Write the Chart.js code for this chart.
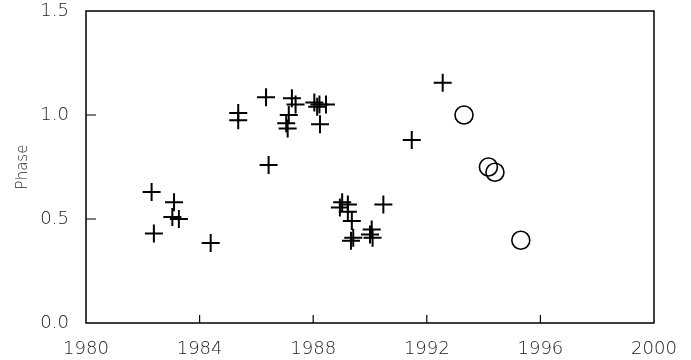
<!DOCTYPE html>
<html>
<head>
<meta charset="utf-8">
<script src="https://cdn.jsdelivr.net/npm/chart.js@4/dist/chart.umd.min.js"></script>
<style>
  html, body { margin: 0; padding: 0; background: #fff; }
  #wrap { width: 691px; height: 360px; }
</style>
</head>
<body>
<div id="wrap"><canvas id="chart"></canvas></div>
<script>
// crosses: observed phase per year
const crossYears = [
  1982.31, 1983.10, 1983.04, 1983.27, 1982.39, 1984.39,
  1985.36, 1985.36, 1986.34, 1986.43,
  1987.25, 1987.38, 1987.14, 1987.05, 1987.10,
  1988.04, 1988.14, 1988.22, 1988.45, 1988.24,
  1989.02, 1989.22, 1988.94, 1989.22, 1989.36, 1989.41, 1989.33,
  1990.06, 1990.00, 1990.09, 1990.47,
  1991.47, 1992.56
];
const crossPhase = [
  0.63, 0.58, 0.51, 0.50, 0.43, 0.385,
  1.01, 0.975, 1.085, 0.76,
  1.08, 1.05, 1.00, 0.96, 0.935,
  1.06, 1.04, 1.05, 1.05, 0.955,
  0.58, 0.57, 0.555, 0.535, 0.49, 0.41, 0.395,
  0.45, 0.425, 0.41, 0.57,
  0.88, 1.155
];
// circles
const circleYears = [1993.31, 1994.17, 1994.40, 1995.31];
const circlePhase = [1.00, 0.75, 0.725, 0.398];

const xTicks = [1980, 1984, 1988, 1992, 1996, 2000];
const yTicks = [0.0, 0.5, 1.0, 1.5];

const toPts = (xs, ys) => xs.map((x, i) => ({ x: x, y: ys[i] }));

// box round the plot with ticks pointing inward
const framePlugin = {
  id: 'frame',
  afterDraw(chart) {
    const { ctx, chartArea: a, scales } = chart;
    ctx.save();
    ctx.strokeStyle = '#000';
    ctx.lineWidth = 1.5;
    ctx.strokeRect(a.left, a.top, a.right - a.left, a.bottom - a.top);
    ctx.lineWidth = 1.2;
    ctx.beginPath();
    yTicks.forEach(v => {
      const py = scales.y.getPixelForValue(v);
      if (py <= a.top + 1 || py >= a.bottom - 1) return;
      ctx.moveTo(a.left, py);
      ctx.lineTo(a.left + 10, py);
    });
    xTicks.forEach(v => {
      const px = scales.x.getPixelForValue(v);
      if (px <= a.left + 1 || px >= a.right - 1) return;
      ctx.moveTo(px, a.bottom);
      ctx.lineTo(px, a.bottom - 8);
    });
    ctx.stroke();
    ctx.restore();
  }
};

const tickFont = { family: 'DejaVu Sans', size: 18, weight: 200 };

new Chart(document.getElementById('chart'), {
  type: 'scatter',
  data: {
    datasets: [
      {
        label: 'cross',
        data: toPts(crossYears, crossPhase),
        pointStyle: 'cross',
        pointRadius: 9,
        pointBorderWidth: 2,
        borderColor: '#000',
        backgroundColor: '#000'
      },
      {
        label: 'circle',
        data: toPts(circleYears, circlePhase),
        pointStyle: 'circle',
        pointRadius: 9,
        pointBorderWidth: 1.6,
        borderColor: '#000',
        backgroundColor: 'rgba(0,0,0,0)'
      }
    ]
  },
  options: {
    responsive: true,
    maintainAspectRatio: false,
    animation: false,
    layout: { padding: { top: 8, right: 37, left: 0, bottom: 0 } },
    plugins: {
      legend: { display: false },
      tooltip: { enabled: false }
    },
    scales: {
      x: {
        type: 'linear',
        min: 1980,
        max: 2000,
        afterFit(s) { s.height = 37; s.paddingLeft = 0; s.paddingRight = 0; },
        afterBuildTicks(s) { s.ticks = xTicks.map(v => ({ value: v })); },
        grid: { display: false },
        border: { display: false },
        ticks: {
          font: tickFont,
          color: '#222',
          padding: 8,
          maxRotation: 0,
          callback: v => String(v)
        }
      },
      y: {
        min: 0,
        max: 1.5,
        afterFit(s) { s.width = 86; s.paddingTop = 0; s.paddingBottom = 0; },
        afterBuildTicks(s) { s.ticks = yTicks.map(v => ({ value: v })); },
        grid: { display: false },
        border: { display: false },
        title: {
          display: true,
          text: 'Phase',
          font: { family: 'DejaVu Sans', size: 15, weight: 200 },
          color: '#222',
          padding: { top: 14, bottom: 0 }
        },
        ticks: {
          font: tickFont,
          color: '#222',
          padding: 9,
          callback: v => Number(v).toFixed(1)
        }
      }
    }
  },
  plugins: [framePlugin]
});
</script>
</body>
</html>
